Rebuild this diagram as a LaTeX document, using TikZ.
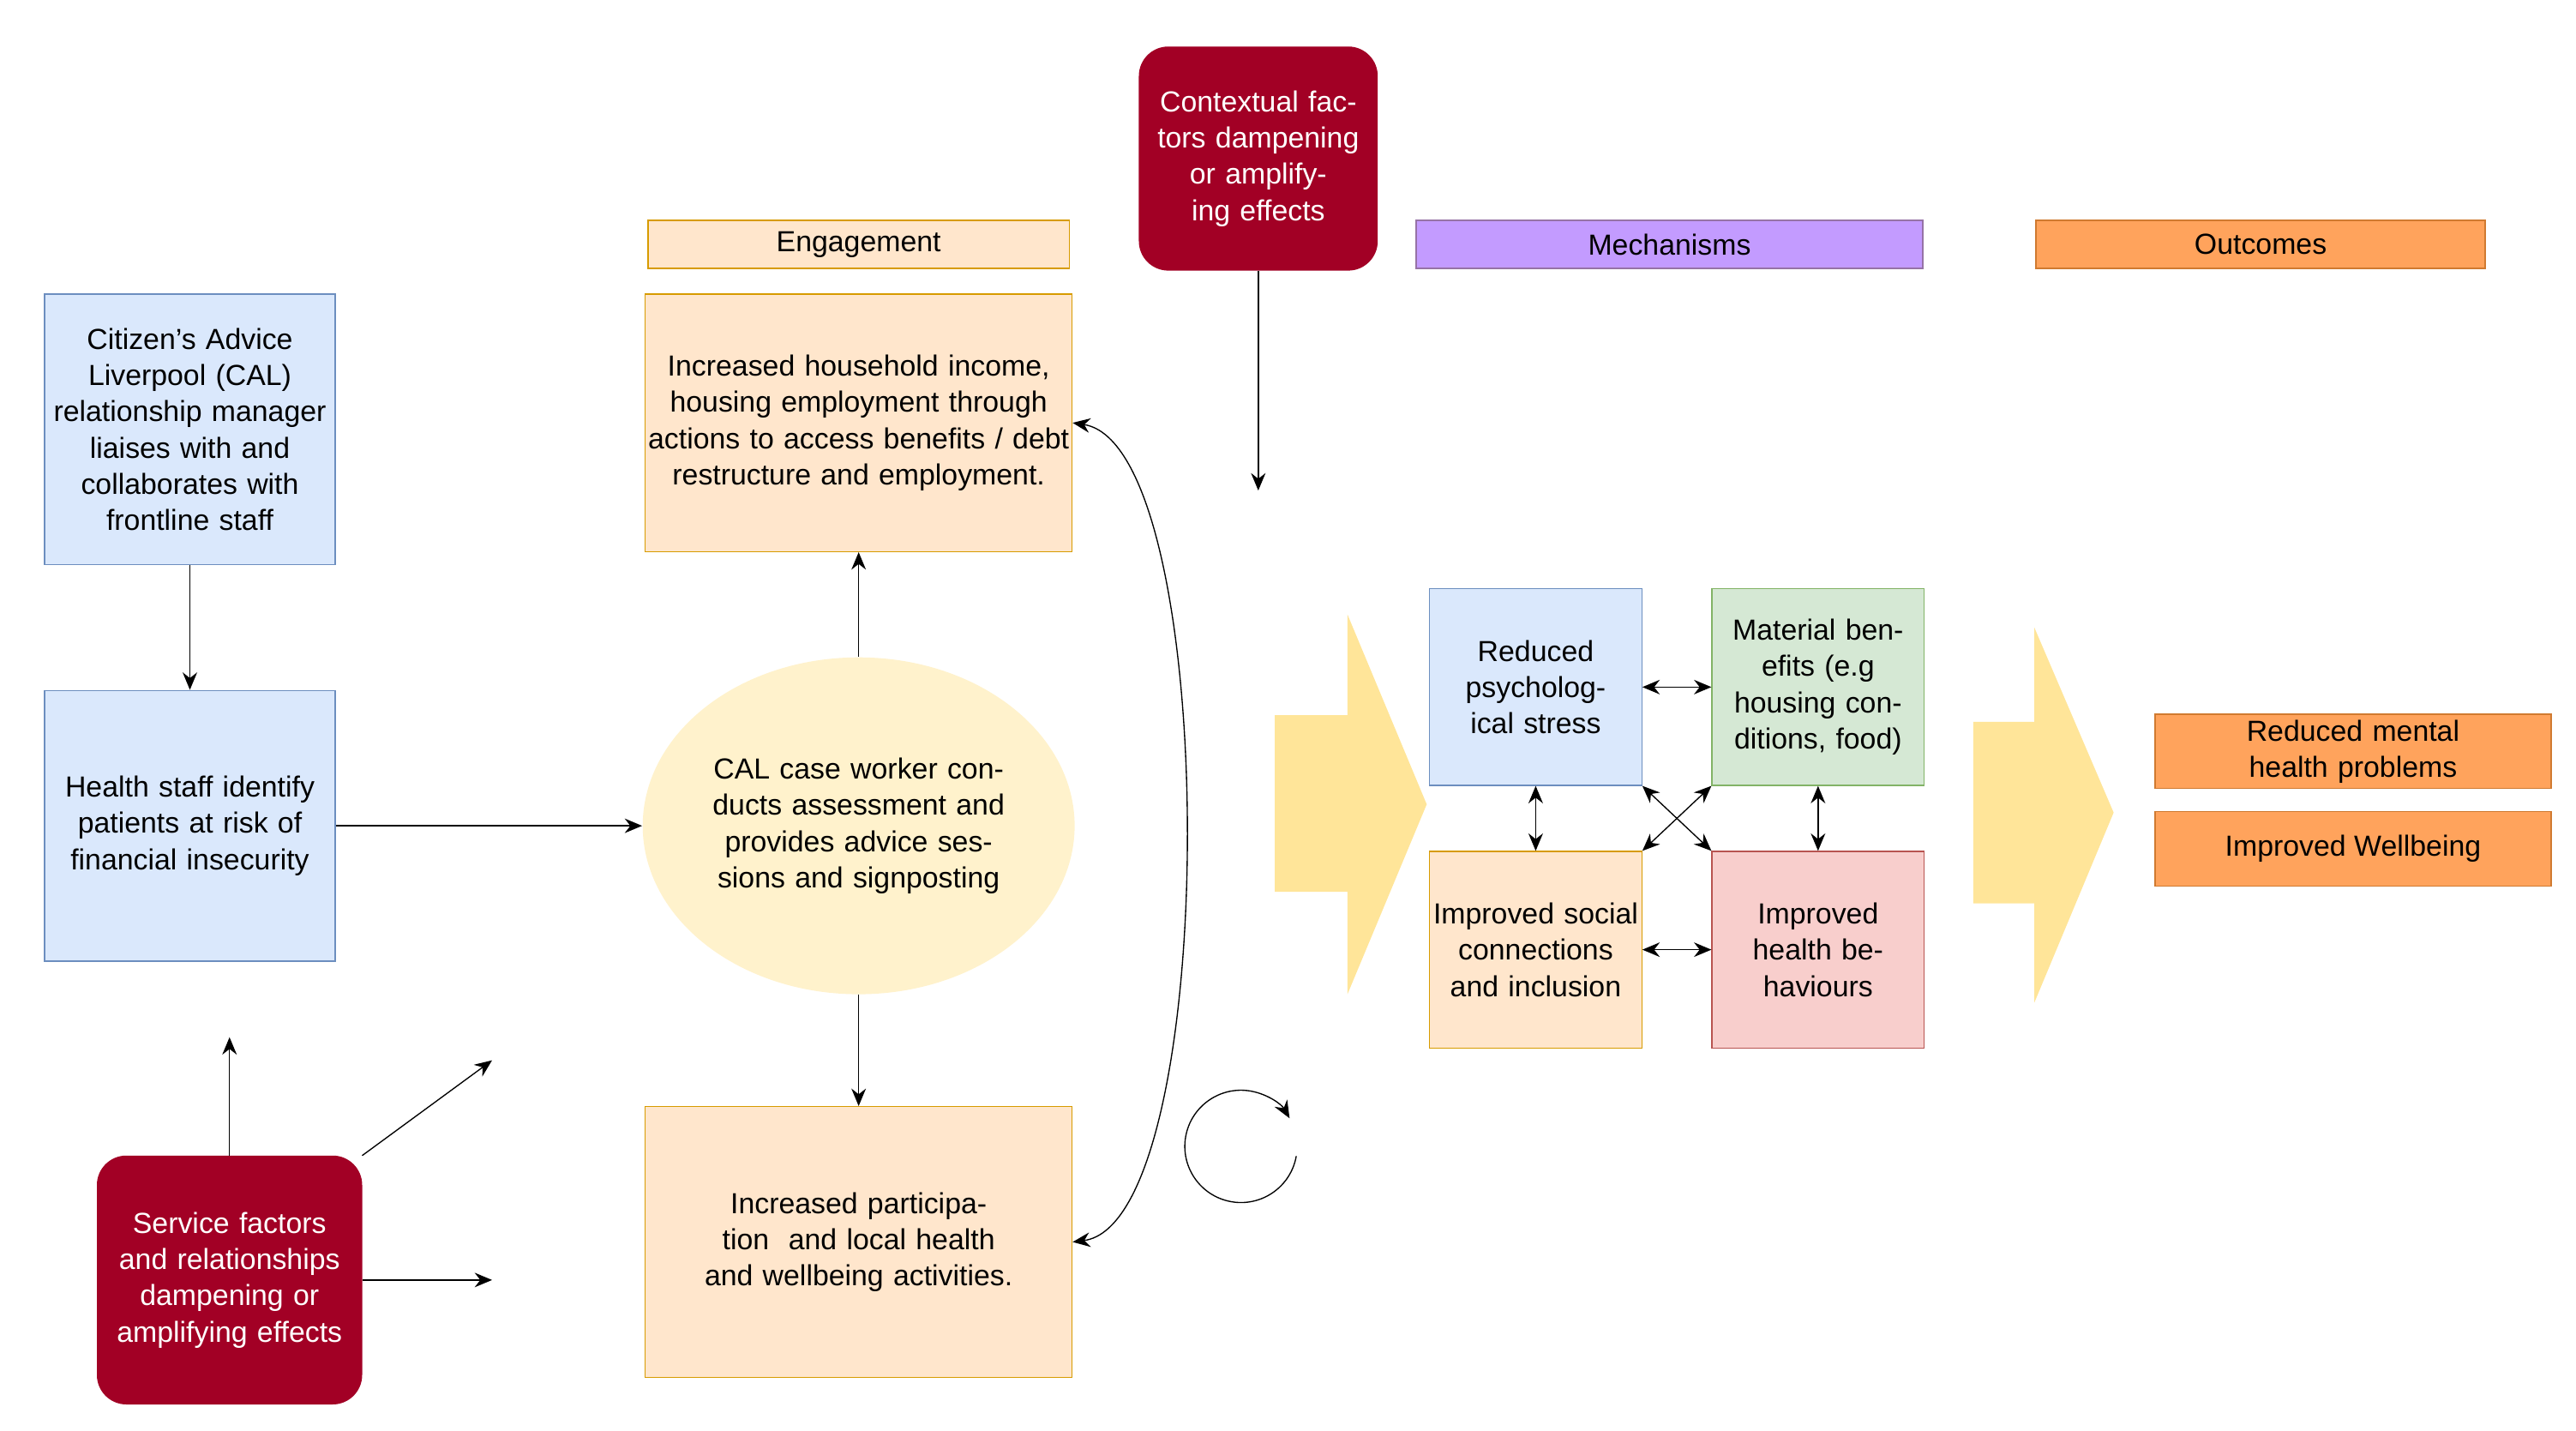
\documentclass[tikz,border=0pt]{standalone}
\usepackage{fontspec}
\setmainfont{Liberation Sans}
\usetikzlibrary{arrows.meta,positioning,shapes.geometric}
\definecolor{bluef}{HTML}{DAE8FC}\definecolor{blued}{HTML}{6C8EBF}
\definecolor{orgf}{HTML}{FFE6CC}\definecolor{orgd}{HTML}{D79B00}
\definecolor{grnf}{HTML}{D5E8D4}\definecolor{grnd}{HTML}{82B366}
\definecolor{redf}{HTML}{F8CECC}\definecolor{redd}{HTML}{B85450}
\definecolor{wine}{HTML}{A20025}\definecolor{yel}{HTML}{FFF2CC}
\definecolor{bigarr}{HTML}{FFE599}
\definecolor{purf}{HTML}{C39BFF}\definecolor{purd}{HTML}{9673A6}
\definecolor{outf}{HTML}{FFA35C}\definecolor{outd}{HTML}{D07A30}
\tikzset{
  box/.style={draw, align=center, font=\fontsize{10}{12.5}\selectfont, inner sep=1pt},
  bluebox/.style={box, fill=bluef, draw=blued, minimum width=3.52cm, minimum height=3.28cm, text width=3.4cm},
  engbox/.style={box, fill=orgf, draw=orgd, minimum width=5.1cm, text width=5.1cm},
  mech/.style={box, minimum width=2.56cm, minimum height=2.38cm, text width=2.5cm},
  header/.style={box, minimum height=0.58cm},
  factor/.style={box, fill=wine, draw=wine, text=white, rounded corners=0.35cm, font=\fontsize{10}{12.5}\selectfont},
  arr/.style={-{Stealth[length=6pt,width=5pt]}},
  darr/.style={{Stealth[length=6pt,width=5pt]}-{Stealth[length=6pt,width=5pt]}}
}
\begin{document}
\begin{tikzpicture}[x=0.02cm,y=-0.02cm]
\useasboundingbox (0,0) rectangle (1560,866);
% left column
\node[bluebox] (cal) at (115,260) {Citizen's Advice Liverpool (CAL) relationship manager liaises with and collaborates with frontline staff};
\node[bluebox] (staff) at (115,500) {Health staff identify patients at risk of financial insecurity};
\node[factor, minimum width=3.2cm, minimum height=3cm, text width=3.1cm] (service) at (139,775) {Service factors and relationships dampening or amplifying effects};
% engagement
\node[header, fill=orgf, draw=orgd, minimum width=5.1cm] (eng) at (520,148) {Engagement};
\node[engbox, minimum height=3.12cm] (income) at (520,256) {Increased household income, housing employment through actions to access benefits / debt restructure and employment.};
\node[ellipse, fill=yel, minimum width=4.32cm, minimum height=4.08cm, align=center, text width=3.7cm, font=\fontsize{10}{12.5}\selectfont, inner sep=0pt] (case) at (520,500) {CAL case worker conducts assessment and provides advice sessions and signposting};
\node[engbox, minimum height=3.28cm] (particip) at (520,752) {Increased participation~ and local health and wellbeing activities.};
\node[factor, minimum width=2.88cm, minimum height=2.7cm, text width=2.8cm] (context) at (762,96) {Contextual factors dampening or amplifying effects};
% mechanisms
\node[header, fill=purf, draw=purd, minimum width=6.14cm] (mechs) at (1011,148) {Mechanisms};
\node[mech, fill=bluef, draw=blued] (stress) at (930,416) {Reduced psychological stress};
\node[mech, fill=grnf, draw=grnd] (material) at (1101,416) {Material benefits (e.g housing conditions, food)};
\node[mech, fill=orgf, draw=orgd] (social) at (930,575) {Improved social connections and inclusion};
\node[mech, fill=redf, draw=redd] (health) at (1101,575) {Improved health behaviours};
% outcomes
\node[header, fill=outf, draw=outd, minimum width=5.44cm] (outc) at (1369,148) {Outcomes};
\node[box, fill=outf, draw=outd, minimum width=4.8cm, minimum height=0.9cm, text width=4.6cm] (mental) at (1425,455) {Reduced mental health problems};
\node[box, fill=outf, draw=outd, minimum width=4.8cm, minimum height=0.9cm] (wellb) at (1425,514) {Improved Wellbeing};
% big arrows
\fill[bigarr] (772,433) -- (816,433) -- (816,372) -- (864,487) -- (816,602) -- (816,540) -- (772,540) -- cycle;
\fill[bigarr] (1195,437) -- (1232,437) -- (1232,380) -- (1280,492) -- (1232,607) -- (1232,547) -- (1195,547) -- cycle;
% free ends
\coordinate (ctxend) at (762,297);
\coordinate (servup) at (139,628);
\coordinate (servdiag) at (298,642);
\coordinate (servright) at (298,775);
% connectors
\draw[arr] (cal) -- (staff);
\draw[arr] (staff) -- (case);
\draw[arr] (case) -- (income);
\draw[arr] (case) -- (particip);
\draw[darr] (income.east) .. controls (740,270) and (740,740) .. (particip.east);
\draw[arr] (context) -- (ctxend);
\draw[arr] (service.north) -- (servup);
\draw[arr] (service.north east) -- (servdiag);
\draw[arr] (service.east) -- (servright);
\draw[arr] (785,700) arc[start angle=10, end angle=330, radius=34];
\draw[darr] (stress) -- (material);
\draw[darr] (social) -- (health);
\draw[darr] (stress) -- (social);
\draw[darr] (material) -- (health);
\draw[darr] (stress.south east) -- (health.north west);
\draw[darr] (material.south west) -- (social.north east);
\end{tikzpicture}
\end{document}
